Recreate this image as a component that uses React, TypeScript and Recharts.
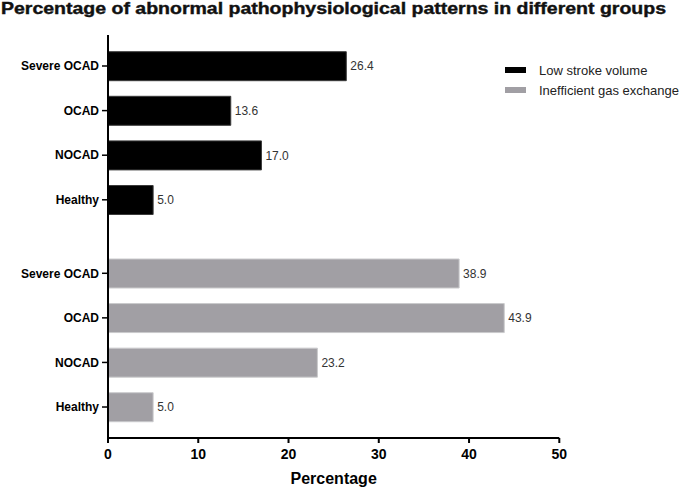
import { BarChart, Bar, XAxis, YAxis, LabelList } from 'recharts';

const groups = ['Severe OCAD', 'OCAD', 'NOCAD', 'Healthy'];
const lowStrokeVolume = [26.4, 13.6, 17.0, 5.0];
const gasExchange = [38.9, 43.9, 23.2, 5.0];
const xTicks = [0, 10, 20, 30, 40, 50];

const legendItems = [
  { name: 'Low stroke volume', color: '#000000' },
  { name: 'Inefficient gas exchange', color: '#a19fa4' },
];

const topData = groups.map((g, i) => ({ group: g, value: lowStrokeVolume[i] }));
const bottomData = groups.map((g, i) => ({ group: g, value: gasExchange[i] }));

const FONT = '"Liberation Sans", Arial, sans-serif';
const fmt = (v: any) => Number(v).toFixed(1);

const yTick = { fill: '#000', fontSize: 12, fontWeight: 'bold', fontFamily: FONT };
const axisLine = { stroke: '#000', strokeWidth: 2 };

// legend shared by both halves, so it sits outside the charts
function LegendBox() {
  return (
    <div style={{ position: 'absolute', left: 505, top: 60, fontFamily: FONT, fontSize: 13, color: '#222' }}>
      {legendItems.map((it) => (
        <div key={it.name} style={{ display: 'flex', alignItems: 'center', height: 20 }}>
          <span style={{ display: 'inline-block', width: 21, height: 6, background: it.color, marginRight: 13 }} />
          <span>{it.name}</span>
        </div>
      ))}
    </div>
  );
}

export default function App() {
  return (
    <div style={{ position: 'absolute', left: 0, top: 0, width: 685, height: 489, background: '#fff', fontFamily: FONT }}>
      <svg width={685} height={30} style={{ position: 'absolute', left: 0, top: 0 }}>
        <text
          x={1}
          y={13.5}
          textLength={665}
          lengthAdjust="spacingAndGlyphs"
          fontSize={16.5}
          fontWeight="bold"
          fontFamily={FONT}
          fill="#111"
          stroke="#111"
          strokeWidth={0.4}
        >
          Percentage of abnormal pathophysiological patterns in different groups
        </text>
      </svg>

      <div style={{ position: 'absolute', left: 0, top: 0 }}>
        <BarChart
          width={685}
          height={237}
          data={topData}
          layout="vertical"
          margin={{ top: 35, right: 125.7, bottom: 0, left: 8 }}
        >
          <XAxis type="number" domain={[0, 50]} ticks={xTicks} hide />
          <YAxis
            type="category"
            dataKey="group"
            width={100}
            padding={{ top: 8.7, bottom: 14.9 }}
            tick={yTick}
            tickSize={6}
            tickMargin={3}
            axisLine={axisLine}
            tickLine={{ stroke: '#000', strokeWidth: 1.5 }}
          />
          <Bar dataKey="value" fill="#000" stroke="#3a3a3a" strokeWidth={1} barSize={29} isAnimationActive={false}>
            <LabelList dataKey="value" position="right" offset={4} formatter={fmt} fill="#333" fontSize={12} fontFamily={FONT} />
          </Bar>
        </BarChart>
      </div>

      <div style={{ position: 'absolute', left: 0, top: 237 }}>
        <BarChart
          width={685}
          height={252}
          data={bottomData}
          layout="vertical"
          margin={{ top: 0, right: 125.7, bottom: 1, left: 8 }}
        >
          <XAxis
            type="number"
            domain={[0, 50]}
            ticks={xTicks}
            height={50}
            tick={{ fill: '#000', fontSize: 14, fontWeight: 'bold', fontFamily: FONT }}
            tickSize={5}
            tickMargin={6}
            axisLine={axisLine}
            tickLine={{ stroke: '#000', strokeWidth: 2 }}
            label={{ value: 'Percentage', position: 'insideBottom', offset: 4, fill: '#000', fontSize: 16, fontWeight: 'bold', fontFamily: FONT }}
          />
          <YAxis
            type="category"
            dataKey="group"
            width={100}
            padding={{ top: 14, bottom: 8.7 }}
            tick={yTick}
            tickSize={6}
            tickMargin={3}
            axisLine={axisLine}
            tickLine={{ stroke: '#000', strokeWidth: 1.5 }}
          />
          <Bar dataKey="value" fill="#a19fa4" stroke="#cacacc" strokeWidth={1} barSize={29} isAnimationActive={false}>
            <LabelList dataKey="value" position="right" offset={4} formatter={fmt} fill="#333" fontSize={12} fontFamily={FONT} />
          </Bar>
        </BarChart>
      </div>

      <LegendBox />
    </div>
  );
}
